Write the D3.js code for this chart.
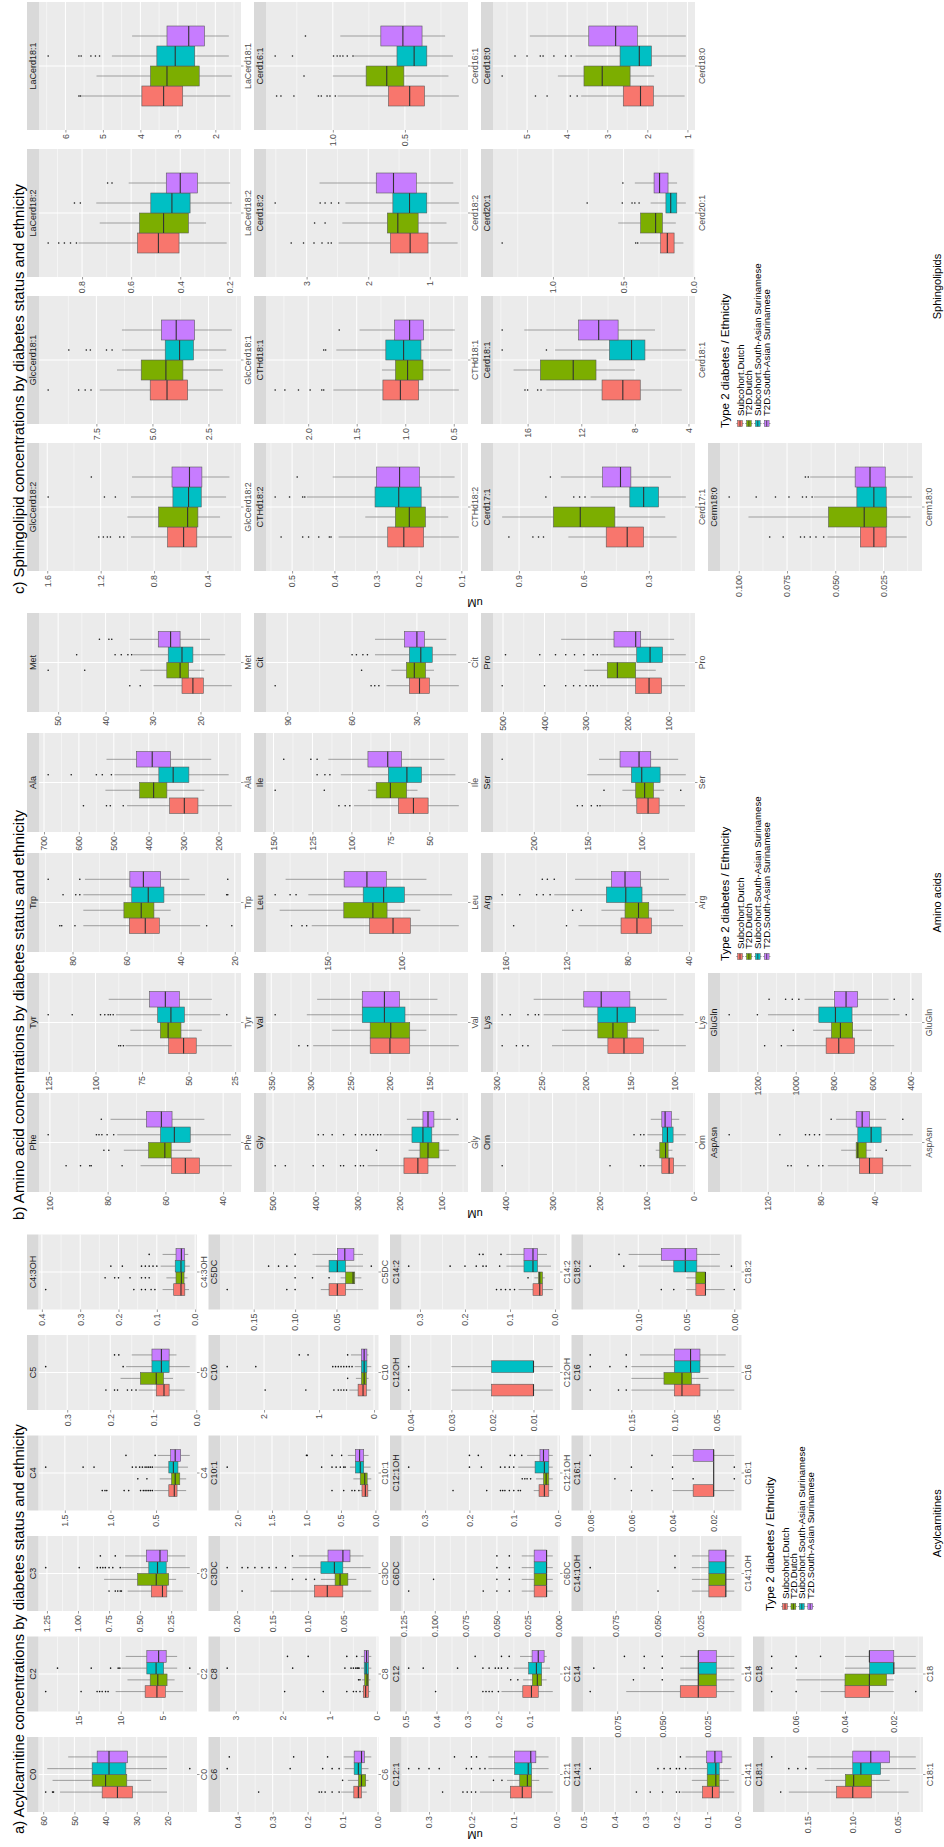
<!DOCTYPE html>
<html>
<head>
<meta charset="utf-8">
<script src="https://cdn.jsdelivr.net/npm/d3@7"></script>
<style>
body { margin: 0; background: #fff; }
svg text { font-family: "Liberation Sans", Arial, sans-serif; }
</style>
</head>
<body>
<svg id="fig" width="944" height="1847"></svg>
<script>
// groups (fill order in every facet)
var groupLabels = ["Subcohort.Dutch", "T2D.Dutch", "Subcohort.South-Asian Surinamese", "T2D.South-Asian Surinamese"];
var groupColors = ["#F8766D", "#7CAE00", "#00BFC4", "#C77CFF"];

// ---- a) acylcarnitines ----
var acylNames = ["C0","C2","C3","C4","C5","C4:3OH","C6","C8","C3DC","C10:1","C10","C5DC",
  "C12:1","C12","C6DC","C12:1OH","C12OH","C14:2","C14:1","C14","C14:1OH","C16:1","C16","C18:2","C18:1","C18"];
var acylTicks = [
  ["20","30","40","50","60"], ["5","10","15"], ["0.25","0.50","0.75","1.00","1.25"], ["0.5","1.0","1.5"],
  ["0.0","0.1","0.2","0.3"], ["0.0","0.1","0.2","0.3","0.4"],
  ["0.0","0.1","0.2","0.3","0.4"], ["0","1","2","3"], ["0.00","0.05","0.10","0.15","0.20"],
  ["0.0","0.5","1.0","1.5","2.0"], ["0","1","2"], ["0.05","0.10","0.15"],
  ["0.0","0.1","0.2","0.3"], ["0.0","0.1","0.2","0.3","0.4","0.5"], ["0.000","0.025","0.050","0.075","0.100","0.125"],
  ["0.0","0.1","0.2","0.3"], ["0.01","0.02","0.03","0.04"], ["0.0","0.1","0.2","0.3"],
  ["0.0","0.1","0.2","0.3","0.4","0.5"], ["0.025","0.050","0.075"], ["0.025","0.050","0.075"],
  ["0.02","0.04","0.06","0.08"], ["0.05","0.10","0.15"], ["0.00","0.05","0.10"],
  ["0.05","0.10","0.15"], ["0.02","0.04","0.06"]
];
// [lower whisker, q1, median, q3, upper whisker] per group
var acylStats = [
  [[20.3,31.4,36.2,41.1,54.6],[25.4,33.2,40.0,44.3,57.0],[20.3,33.5,38.9,44.3,58.7],[20.3,33.0,38.9,42.7,52.0]],
  [[2.6,4.7,5.7,7.1,10.6],[3.6,4.5,5.6,6.5,9.2],[3.3,4.9,5.8,6.9,9.9],[3.3,4.6,5.5,6.9,9.4]],
  [[0.155,0.285,0.32,0.41,0.60],[0.21,0.27,0.37,0.52,0.79],[0.10,0.29,0.36,0.43,0.65],[0.136,0.28,0.34,0.45,0.62]],
  [[0.17,0.27,0.30,0.36,0.52],[0.17,0.24,0.29,0.33,0.46],[0.15,0.26,0.31,0.36,0.52],[0.13,0.23,0.29,0.34,0.48]],
  [[0.027,0.063,0.075,0.093,0.134],[0.054,0.076,0.093,0.13,0.176],[0.015,0.063,0.081,0.103,0.163],[0.046,0.063,0.081,0.103,0.15]],
  [[0.016,0.027,0.037,0.056,0.085],[0.02,0.029,0.036,0.05,0.075],[0.014,0.027,0.037,0.052,0.09],[0.018,0.028,0.036,0.05,0.085]],
  [[0.031,0.046,0.055,0.068,0.104],[0.026,0.034,0.046,0.055,0.085],[0.026,0.046,0.055,0.067,0.094],[0.018,0.038,0.046,0.067,0.097]],
  [[0.14,0.18,0.24,0.29,0.32],[0.14,0.18,0.21,0.26,0.32],[0.12,0.18,0.23,0.27,0.34],[0.12,0.18,0.22,0.27,0.34]],
  [[0.011,0.051,0.073,0.091,0.153],[0.032,0.044,0.055,0.062,0.082],[0.012,0.051,0.063,0.082,0.122],[0.022,0.041,0.051,0.072,0.113]],
  [[0.06,0.11,0.146,0.195,0.22],[0.06,0.12,0.155,0.22,0.32],[0.07,0.17,0.22,0.29,0.37],[0.1,0.17,0.23,0.29,0.4]],
  [[0.06,0.14,0.2,0.29,0.45],[0.1,0.14,0.18,0.23,0.33],[0.05,0.13,0.18,0.23,0.35],[0.1,0.13,0.18,0.23,0.42]],
  [[0.018,0.039,0.049,0.059,0.069],[0.02,0.028,0.03,0.039,0.045],[0.018,0.039,0.049,0.059,0.075],[0.018,0.029,0.04,0.049,0.079]],
  [[0.008,0.058,0.08,0.108,0.18],[0.04,0.058,0.068,0.086,0.116],[0.018,0.058,0.066,0.098,0.16],[0.018,0.048,0.06,0.098,0.16]],
  [[0.024,0.071,0.093,0.121,0.19],[0.044,0.06,0.074,0.09,0.12],[0.033,0.06,0.077,0.102,0.15],[0.044,0.052,0.071,0.091,0.13]],
  [[0.005,0.01,0.01,0.02,0.03],[0.005,0.01,0.01,0.02,0.03],[0.005,0.01,0.01,0.02,0.03],[0.005,0.01,0.01,0.02,0.03]],
  [[0.012,0.021,0.031,0.043,0.055],[0.012,0.021,0.027,0.033,0.05],[0.012,0.021,0.031,0.052,0.09],[0.012,0.021,0.033,0.041,0.07]],
  [[0.0053,0.01,0.01,0.0202,0.03],null,[0.0053,0.01,0.01,0.0202,0.03],null],
  [[0.005,0.028,0.034,0.049,0.081],[0.023,0.028,0.034,0.037,0.046],[0.009,0.039,0.049,0.069,0.108],[0.018,0.039,0.049,0.069,0.108]],
  [[0.012,0.061,0.083,0.115,0.184],[0.03,0.061,0.072,0.1,0.15],[0.022,0.061,0.072,0.1,0.16],[0.02,0.052,0.075,0.102,0.17]],
  [[0.01,0.02,0.03,0.04,0.07],[0.01,0.02,0.03,0.03,0.04],[0.01,0.02,0.03,0.03,0.04],[0.01,0.02,0.03,0.03,0.04]],
  [[0.005,0.01,0.01,0.02,0.03],[0.005,0.01,0.01,0.02,0.03],[0.005,0.01,0.01,0.02,0.03],[0.005,0.01,0.01,0.02,0.03]],
  [[0.01,0.02,0.02,0.03,0.04],[0.02,0.02,0.02,0.02,0.02],[0.02,0.02,0.02,0.02,0.02],[0.01,0.02,0.02,0.03,0.04]],
  [[0.03,0.07,0.091,0.1,0.15],[0.06,0.08,0.091,0.112,0.15],[0.03,0.07,0.081,0.1,0.15],[0.04,0.07,0.081,0.1,0.14]],
  [[0.01,0.03,0.03,0.04,0.05],[0.03,0.03,0.03,0.04,0.05],[0.015,0.039,0.051,0.063,0.1],[0.015,0.039,0.051,0.076,0.11]],
  [[0.038,0.079,0.1,0.118,0.171],[0.059,0.079,0.099,0.108,0.131],[0.03,0.069,0.091,0.1,0.14],[0.03,0.059,0.08,0.1,0.15]],
  [[0.02,0.03,0.03,0.04,0.05],[0.02,0.023,0.03,0.04,0.06],[0.011,0.02,0.02,0.03,0.04],[0.011,0.02,0.03,0.03,0.04]]
];
var acylOut = [
  [[59.2,57,56.7],[],[13],[]],
  [[18.9,14.7,12.8,12.5,12.2,11.8,11.5],[],[17.5,13.5,11.2,10.3,10.1,1.8],[]],
  [[0.75,0.70,0.68,0.66,0.65],[],[1.26,0.99,0.845,0.82,0.80,0.78,0.75,0.72,0.66],[0.82,0.70]],
  [[1.09,1.06,1.04,0.85,0.80,0.67,0.64,0.62,0.60,0.58,0.56,0.54],[0.70,0.60],[1.71,1.30,1.18,0.76,0.72,0.68,0.65,0.62,0.6,0.58,0.56,0.54],[0.83,0.51]],
  [[0.21,0.19,0.183,0.16,0.15,0.14],[],[0.35,0.17],[0.19,0.18]],
  [[0.39,0.16,0.14,0.13,0.115,0.105],[0.235,0.21,0.2,0.17,0.14,0.13,0.12],[0.22,0.19,0.14,0.13,0.12,0.11,0.10],[0.12]],
  [[0.34,0.167,0.16,0.15,0.13,0.11],[0.10],[0.43,0.25,0.157,0.13,0.11],[0.424,0.24,0.143]],
  [[1.96,1.14,0.64,0.5,0.44,0.36],[0.39,0.36],[3.18,1.79,0.68,0.55,0.5,0.45,0.42,0.4,0.38],[1.9,1.46,0.64,0.43]],
  [[0.193],[0.122,0.103,0.091],[0.214,0.193,0.185,0.175,0.165,0.155,0.145,0.132],[0.122]],
  [[0.63,0.46,0.34,0.3,0.24],[],[2.15,0.78,0.63,0.57,0.51,0.46,0.44],[1.0,0.99,0.63,0.49]],
  [[1.98,1.24,0.73,0.65,0.6,0.55,0.5],[0.48],[2.67,2.15,0.75,0.7,0.65,0.6,0.55,0.5,0.45,0.4],[1.36,1.2,0.48]],
  [[0.182,0.11,0.1],[0.1,0.079,0.059],[0.132,0.12,0.11,0.1,0.008],[0.1]],
  [[0.268,0.22,0.21,0.2,0.19],[0.148,0.128],[0.348,0.324,0.3,0.276,0.212,0.2,0.18,0.168],[0.24,0.2,0.188]],
  [[0.403,0.25,0.24,0.23,0.22,0.2],[0.16,0.137],[0.49,0.443,0.332,0.25,0.23,0.21,0.2,0.19,0.17],[0.275,0.19,0.165]],
  [[0.121,0.061,0.05,0.04],[0.101,0.05,0.04],[0.05,0.04],[0.05,0.04]],
  [[0.237,0.161,0.13,0.125,0.12,0.11,0.1,0.09,0.085],[0.081,0.075,0.07,0.062],[0.337,0.2,0.173,0.13,0.12,0.11,0.1],[0.2,0.18,0.108,0.098,0.082]],
  [[0.0404],[],[0.0404],[]],
  [[0.13,0.12,0.11,0.1,0.09],[0.06],[0.325,0.233,0.2,0.175,0.16,0.153,0.123],[0.168,0.16,0.12]],
  [[0.33,0.285,0.245,0.2,0.19],[],[0.48,0.26,0.24,0.22,0.2,0.19,0.17],[0.187]],
  [[0.09],[0.05,0.066],[0.088,0.06,0.05],[0.071,0.06,0.05]],
  [[0.05],[],[0.09,0.04],[0.04]],
  [[0.05,0.06],[0.04,0.03,0.01,0.068],[0.04,0.01,0.06],[0.05,0.08]],
  [[0.198,0.165,0.156],[],[0.198,0.175,0.156],[0.198,0.156]],
  [[0.076,0.063,0.0],[],[0.15,0.115,0.003],[0.12]],
  [[0.18],[],[0.171,0.161,0.152],[0.19]],
  [[0.07,0.06,0.011],[],[0.07,0.06],[0.07,0.06,0.05]]
];

// ---- b) amino acids ----
var aminoNames = ["Phe","Tyr","Trp","Ala","Met","Gly","Val","Leu","Ile","Cit","Orn","Lys","Arg","Ser","Pro","AspAsn","GluGln"];
var aminoTicks = [
  ["40","60","80","100"], ["25","50","75","100","125"], ["20","40","60","80"], ["200","300","400","500","600","700"],
  ["20","30","40","50"], ["100","200","300","400","500"], ["150","200","250","300","350"], ["100","150"],
  ["25","50","75","100","125","150"], ["30","60","90"], ["0","100","200","300","400"], ["100","150","200","250","300"],
  ["40","80","120","160"], ["50","100","150","200"], ["100","200","300","400","500"], ["40","80","120"],
  ["400","600","800","1000","1200"]
];
var aminoStats = [
  [[37,48.2,53.1,57.9,68.6],[50.8,58,60.2,65.8,74.4],[37.3,51.4,56.9,61.7,76.7],[46.5,57.7,61.4,66.6,79]],
  [[26.8,45.9,52.7,60.7,83.9],[42.9,54.1,61,65.2,81.3],[33,52.3,59.5,66.6,89],[37.5,55,62.5,70.9,92.9]],
  [[32.8,47.9,53.1,59,76],[43.7,49.9,54.6,61,76],[31,46.2,52,58.1,76],[36.8,47.4,53.8,58.8,75.4]],
  [[162,259,298,340,462],[241,348,386,426,524],[171,285,330,371,498],[221,338,390,435,521]],
  [[13.4,19.4,21.6,23.9,29.9],[19.2,22.5,24.3,27.1,32.7],[14.8,21.6,23.9,26.8,34.2],[18,24.3,26.3,28.9,34.9]],
  [[67,133,157,190,276],[83,107,133,152,179],[60,124,145,171,238],[79,119,133,145,183]],
  [[113,175,200,225,297],[154,175,199,225,273],[115,181,207,235,305],[140,188,207,235,292]],
  [[61.9,94.4,106,121.7,160.5],[87.7,110,119.5,139,182],[66.4,98.4,112.3,126,162.8],[83.6,110.5,123.5,138.8,178]],
  [[31.1,50.8,60.2,69.9,98.3],[57.6,64.6,75,84.1,89.4],[33.3,55.1,64.4,76.3,106.8],[40.3,67.8,76.7,89.4,114.8]],
  [[10.6,24.2,28.8,33.5,44.1],[22.1,26,31.2,34.8,41.8],[11.8,22.9,28.2,33.5,49.4],[16.4,26.5,30,35.8,49.4]],
  [[17,43,52.5,68,98.6],[45.4,54.6,60,72.3,80.9],[17,44,56,66.7,98.6],[31,47.5,61,68,91.5]],
  [[87.6,135.3,157.1,175.2,238],[117.7,153.4,169.5,186.5,226.7],[90.2,144,164.7,186.5,247.4],[109,150.4,182.7,202.3,258.6]],
  [[43.9,64.6,74,84.4,112.2],[49.8,66.3,73,81.8,97.2],[42.1,70.7,81.3,93.9,128],[53.1,71.8,81.8,90.6,114.4]],
  [[59.6,83.5,93.8,104.3,137.3],[78.9,88.8,97,105.3,117.7],[58.7,82.6,99.7,109.3,150.3],[65.8,91.3,102.2,119.9,139.4]],
  [[62,118.5,148.3,180.5,266.6],[132.2,180.5,224.7,249,305.2],[59.8,116,145.9,178,266.6],[88,168.4,180.5,232.8,360]],
  [[12.5,33.75,43.75,51.25,75],[42.5,46.25,52.5,53.75,65],[11.25,35,42.5,52.5,76.75],[31.25,43.75,49.25,53.75,68.75]],
  [[486.6,694.4,775.8,841.6,1047.6],[602.6,703,767,813.9,909],[458.9,706.5,793,879.7,1144.6],[516,677,737.7,798.3,954]]
];
var aminoOut = [
  [[94.4,89.4,86.2,85.7,75],[81.3,79.6],[100.6,83.9,83,82,80.2,77.9],[82.2]],
  [[87.5,86.5,85],[],[125.4,112.5,97.3,95,93.2,92,90.5,29.5],[]],
  [[84.7,84,79.1,30.4,21.1],[],[83.5,78.8,77.3,23,22.6],[89,77.3,22.6]],
  [[587,521,510,473],[],[688,622,550,533,507],[]],
  [[34.9,32.7],[52.1,44.4],[46.1,38,36.7,35.3,34.5],[41.3,39.3,38.7]],
  [[495,471,405,381,340,333,305,293,286],[255],[393,381,360,333,305,290,280,270,262,252,245],[64]],
  [[315,304],[],[345],[]],
  [[174,167,163.9],[],[185,175,171],[]],
  [[108,104,101],[148.9,117.4],[122,117,113.8],[143.4,126,122]],
  [[95.6,51.2,49.5,47.6],[55.6],[60,58,55,52.9],[]],
  [[407,178,113,106],[],[127,113,106],[]],
  [[294,278,271,265],[],[294,285,265,256.8,253],[]],
  [[154.5,120],[116,110.4],[162,150.5,139.5,135.2,130.7],[135.8,132.5,128]],
  [[159.6,155,146.6,141,138.5],[134.8,63.4],[],[229.5]],
  [[502,400,349,330,315,300,290,283,273],[],[494,411.5,373.6,349,327.8,305.2,283,273],[]],
  [[105,102.5,90,81.75,78.75],[31.25],[149,111,91.75,88.75,85,81.25],[72.5,18.75]],
  [[1162,1075],[1013],[1347,1200,424],[1139,1052.8,1018,983.6,486.6,389.6]]
];

// ---- c) sphingolipids ----
var sphingoNames = ["GlcCerd18:2","GlcCerd18:1","LaCerd18:2","LaCerd18:1","CTHd18:2","CTHd18:1","Cerd18:2","Cerd16:1",
  "Cerd17:1","Cerd18:1","Cerd20:1","Cerd18:0","Cerm18:0"];
var sphingoTicks = [
  ["0.4","0.8","1.2","1.6"], ["2.5","5.0","7.5"], ["0.2","0.4","0.6","0.8"], ["2","3","4","5","6"],
  ["0.1","0.2","0.3","0.4","0.5"], ["0.5","1.0","1.5","2.0"], ["1","2","3"], ["0.5","1.0"],
  ["0.3","0.6","0.9"], ["4","8","12","16"], ["0.0","0.5","1.0"], ["1","2","3","4","5"],
  ["0.025","0.050","0.075","0.100"]
];
var sphingoStats = [
  [[0.218,0.48,0.579,0.699,0.973],[0.306,0.472,0.549,0.766,1.0],[0.261,0.447,0.542,0.659,0.973],[0.236,0.442,0.535,0.666,0.965]],
  [[1.86,3.43,4.35,5.1,7.35],[1.86,3.64,4.4,5.5,6.58],[1.71,3.17,3.79,4.43,6.36],[1.46,3.12,3.94,4.6,6.36]],
  [[0.211,0.405,0.489,0.574,0.814],[0.295,0.367,0.468,0.566,0.728],[0.19,0.36,0.434,0.52,0.742],[0.197,0.33,0.4,0.457,0.61]],
  [[1.6,2.87,3.38,3.96,5.58],[1.56,2.43,3.29,3.73,5.17],[1.64,2.55,3.07,3.56,4.76],[1.64,2.29,2.71,3.29,4.22]],
  [[0.106,0.189,0.236,0.274,0.39],[0.131,0.185,0.223,0.256,0.327],[0.106,0.195,0.248,0.304,0.465],[0.116,0.199,0.246,0.301,0.404]],
  [[0.448,0.862,1.05,1.23,1.74],[0.534,0.817,0.976,1.1,1.24],[0.517,0.838,1.017,1.2,1.71],[0.49,0.81,0.955,1.11,1.47]],
  [[0.55,1.03,1.32,1.64,2.48],[0.73,1.19,1.52,1.69,2.42],[0.53,1.05,1.33,1.6,2.37],[0.62,1.22,1.59,1.87,2.79]],
  [[0.126,0.364,0.467,0.614,0.967],[0.198,0.507,0.626,0.769,1.0],[0.167,0.348,0.436,0.555,0.852],[0.221,0.381,0.514,0.667,0.948]],
  [[0.172,0.324,0.4,0.497,0.672],[0.224,0.457,0.617,0.741,0.978],[0.129,0.255,0.324,0.388,0.569],[0.198,0.383,0.431,0.514,0.707]],
  [[4.5,7.6,8.9,10.45,14.6],[8.0,10.9,12.6,15.05,17.05],[4.2,7.25,8.25,9.9,13.95],[6.5,9.25,10.7,12.2,16.25]],
  [[0.076,0.142,0.19,0.237,0.384],[0.13,0.225,0.273,0.379,0.538],[0.059,0.123,0.166,0.2,0.308],[0.121,0.185,0.245,0.284,0.42]],
  [[1.07,1.85,2.17,2.6,3.65],[1.83,2.43,3.125,3.58,4.23],[1.04,1.9,2.2,2.68,3.79],[1.04,2.25,2.79,3.46,4.93]],
  [[0.013,0.0236,0.030,0.037,0.054],[0.011,0.0233,0.035,0.0535,0.095],[0.0103,0.0236,0.030,0.0388,0.061],[0.0098,0.0241,0.032,0.0397,0.063]]
];
var sphingoOut = [
  [[1.214,1.18,1.15,1.127,1.057,1.027],[],[1.593,1.172,1.09],[1.27]],
  [[9.65,8.29,8.0,7.74],[],[8.73,7.95,7.77,7.05,6.8],[]],
  [[0.938,0.895,0.872,0.847,0.823],[],[0.831,0.807],[0.696,0.678]],
  [[5.64,5.6],[],[6.46,5.64,5.58,5.32,5.2,5.09],[]],
  [[0.526,0.475,0.461,0.437,0.412,0.408],[],[0.54,0.506,0.475,0.47],[0.488]],
  [[2.34,2.24,2.1,1.98,1.86,1.84],[],[1.84,1.82],[1.68]],
  [[3.25,3.05,2.88,2.75,2.65,2.6],[2.87,2.7],[3.51,2.78,2.7,2.6,2.48],[]],
  [[1.39,1.36,1.27,1.1,1.08,1.04,1.02,0.983],[1.2],[1.4,1.28,0.995,0.97,0.95,0.93,0.9,0.86],[1.19]],
  [[0.947,0.836,0.81,0.787],[],[0.776,0.647,0.62,0.595],[0.755]],
  [[16.2,16,15.25,15],[],[17.9,14.6],[17.9]],
  [[1.36,0.414,0.4],[],[0.758,0.509,0.44,0.42,0.39],[0.505]],
  [[4.79,4.5,3.92,3.75],[5.62],[5.3,5.0,4.67,4.6,4.33,4.04,3.9],[]],
  [[0.084,0.077,0.068,0.066,0.063,0.06,0.056],[],[0.105,0.091,0.081,0.074,0.067,0.065,0.062],[0.0655,0.064]]
];

// ---- layout (drawn in an unrotated 1847 x 944 frame, then turned) ----
var panels = [
  {names: acylNames, ticks: acylTicks, stats: acylStats, outs: acylOut,
   ncol: 6, u0: 35, pitch: 100.5, pw: 75, v0: 27, rowPitch: 181.5, stripH: 11.5, facetH: 170,
   title: "a)  Acylcarnitine concentrations by diabetes status and ethnicity", titleU: 13,
   yTitleU: 16, legendU: 236, keyStep: 8.4, caption: "Acylcarnitines"},
  {names: aminoNames, ticks: aminoTicks, stats: aminoStats, outs: aminoOut,
   ncol: 5, u0: 655, pitch: 120, pw: 99, v0: 27, rowPitch: 227, stripH: 12, facetH: 214,
   title: "b)  Amino acid concentrations by diabetes status and ethnicity", titleU: 627,
   yTitleU: 637, legendU: 886, keyStep: 8.9, caption: "Amino acids"},
  {names: sphingoNames, ticks: sphingoTicks, stats: sphingoStats, outs: sphingoOut,
   ncol: 4, u0: 1276, pitch: 147, pw: 128, v0: 27, rowPitch: 227, stripH: 12, facetH: 214,
   title: "c)  Sphingolipid concentrations by diabetes status and ethnicity", titleU: 1253,
   yTitleU: 1248, legendU: 1419, keyStep: 8.9, caption: "Sphingolipids"}
];

var svg = d3.select("#fig");
var root = svg.append("g").attr("transform", "translate(0,1847) rotate(-90)");

function drawFacet(layer, P, i) {
  var row = Math.floor(i / P.ncol), col = i % P.ncol;
  var left = P.u0 + col * P.pitch, stripTop = P.v0 + row * P.rowPitch;
  var top = stripTop + P.stripH, bottom = stripTop + P.facetH;
  var stats = P.stats[i], outs = P.outs[i];

  var vals = [];
  stats.forEach(function(s, k) {
    if (s) vals.push(s[0], s[4]);
    vals = vals.concat(outs[k]);
  });
  var lo = d3.min(vals), hi = d3.max(vals), pad = (hi - lo) * 0.05;
  var y = d3.scaleLinear().domain([lo - pad, hi + pad]).range([bottom, top]);
  var x = d3.scaleLinear().domain([0.4, 1.6]).range([left, left + P.pw]);
  var dom = y.domain();

  var f = layer.append("g");
  f.append("rect").attr("x", left).attr("y", top).attr("width", P.pw).attr("height", bottom - top)
    .attr("fill", "#EBEBEB");

  var allT = P.ticks[i].map(function(t) { return +t; });
  var step = allT[1] - allT[0];
  var minors = [];
  for (var m = allT[0] - step / 2; m <= allT[allT.length - 1] + step; m += step) {
    if (m >= dom[0] && m <= dom[1]) minors.push(m);
  }
  f.selectAll(".minor").data(minors).enter().append("line")
    .attr("x1", left).attr("x2", left + P.pw)
    .attr("y1", function(d) { return y(d); }).attr("y2", function(d) { return y(d); })
    .attr("stroke", "#fff").attr("stroke-width", 0.5);

  var tk = P.ticks[i].map(function(t) { return {v: +t, s: t}; })
    .filter(function(d) { return d.v >= dom[0] && d.v <= dom[1]; });
  f.selectAll(".major").data(tk).enter().append("line")
    .attr("x1", left).attr("x2", left + P.pw)
    .attr("y1", function(d) { return y(d.v); }).attr("y2", function(d) { return y(d.v); })
    .attr("stroke", "#fff").attr("stroke-width", 1);
  f.append("line").attr("x1", x(1)).attr("x2", x(1)).attr("y1", top).attr("y2", bottom)
    .attr("stroke", "#fff").attr("stroke-width", 1);

  // strip
  f.append("rect").attr("x", left).attr("y", stripTop).attr("width", P.pw).attr("height", P.stripH)
    .attr("fill", "#D9D9D9");
  f.append("text").attr("x", left + P.pw / 2).attr("y", stripTop + P.stripH / 2)
    .attr("text-anchor", "middle").attr("dominant-baseline", "central")
    .attr("fill", "#1A1A1A").style("font-size", "9px").text(P.names[i]);

  // boxes
  var bw = x(0.4 + 0.1875) - x(0.4);
  stats.forEach(function(s, k) {
    var cx = x(1 + (k - 1.5) * 0.1875);
    var bg = f.append("g");
    if (s) {
      bg.append("line").attr("x1", cx).attr("x2", cx).attr("y1", y(s[4])).attr("y2", y(s[3]))
        .attr("stroke", "#4d4d4d").attr("stroke-width", 0.5);
      bg.append("line").attr("x1", cx).attr("x2", cx).attr("y1", y(s[1])).attr("y2", y(s[0]))
        .attr("stroke", "#4d4d4d").attr("stroke-width", 0.5);
      bg.append("rect").attr("x", cx - bw / 2).attr("y", y(s[3])).attr("width", bw)
        .attr("height", Math.max(0.01, y(s[1]) - y(s[3])))
        .attr("fill", groupColors[k]).attr("stroke", "#5a5a5a").attr("stroke-width", 0.6);
      bg.append("line").attr("x1", cx - bw / 2).attr("x2", cx + bw / 2).attr("y1", y(s[2])).attr("y2", y(s[2]))
        .attr("stroke", "#333").attr("stroke-width", 1.1);
    }
    bg.selectAll("circle").data(outs[k]).enter().append("circle")
      .attr("cx", cx).attr("cy", function(d) { return y(d); }).attr("r", 0.8).attr("fill", "#111");
  });

  // y axis
  var ay = f.append("g").attr("transform", "translate(" + left + ",0)")
    .call(d3.axisLeft(y).tickValues(tk.map(function(d) { return d.v; }))
      .tickFormat(function(d, j) { return tk[j].s; }).tickSize(2.5).tickPadding(1.5));
  ay.attr("font-size", null).attr("font-family", null);
  ay.select(".domain").remove();
  ay.selectAll("line").attr("stroke", "#333").attr("stroke-width", 0.5);
  ay.selectAll("text").attr("fill", "#4D4D4D").style("font-size", "8.8px");

  // x axis
  var band = d3.scaleBand().domain([P.names[i]]).range([left, left + P.pw]);
  var ax = f.append("g").attr("transform", "translate(0," + bottom + ")")
    .call(d3.axisBottom(band).tickSize(2.5).tickPadding(1));
  ax.attr("font-size", null).attr("font-family", null);
  ax.select(".domain").remove();
  ax.selectAll("line").attr("stroke", "#333").attr("stroke-width", 0.5);
  ax.selectAll("text").attr("fill", "#4D4D4D").style("font-size", "8.8px");
}

function drawLegend(layer, P) {
  var n = P.names.length;
  var row = Math.floor(n / P.ncol);
  var stripTop = P.v0 + row * P.rowPitch;
  var lg = layer.append("g");
  lg.append("text").attr("x", P.legendU).attr("y", stripTop + 21)
    .style("font-size", "11.5px").attr("fill", "#000").text("Type 2 diabetes / Ethnicity");
  groupLabels.forEach(function(lab, k) {
    var c = stripTop + 32 + k * P.keyStep;
    var u = P.legendU;
    lg.append("line").attr("x1", u + 4.5).attr("x2", u + 4.5).attr("y1", c - 3.8).attr("y2", c + 3.8)
      .attr("stroke", "#4d4d4d").attr("stroke-width", 0.5);
    lg.append("rect").attr("x", u + 1.5).attr("y", c - 2.4).attr("width", 6).attr("height", 4.8)
      .attr("fill", groupColors[k]).attr("stroke", "#5a5a5a").attr("stroke-width", 0.5);
    lg.append("line").attr("x1", u + 1.5).attr("x2", u + 7.5).attr("y1", c).attr("y2", c)
      .attr("stroke", "#333").attr("stroke-width", 0.8);
    lg.append("text").attr("x", u + 12).attr("y", c).attr("dominant-baseline", "central")
      .style("font-size", "9.6px").attr("fill", "#000").text(lab);
  });
}

panels.forEach(function(P) {
  var layer = root.append("g");
  P.names.forEach(function(name, i) { drawFacet(layer, P, i); });
  drawLegend(layer, P);

  layer.append("text").attr("x", P.titleU).attr("y", 24)
    .attr("textLength", 410).attr("lengthAdjust", "spacingAndGlyphs")
    .style("font-size", "15px").attr("fill", "#000").text(P.title);

  layer.append("text").attr("transform", "translate(" + P.yTitleU + ",475) rotate(-90)")
    .attr("text-anchor", "middle").style("font-size", "11px").attr("fill", "#000").text("uM");

  var cu = P.u0 + ((P.ncol - 1) * P.pitch + P.pw) / 2;
  layer.append("text").attr("x", cu).attr("y", 941)
    .attr("text-anchor", "middle").style("font-size", "11px").attr("fill", "#000").text(P.caption);
});
</script>
</body>
</html>
